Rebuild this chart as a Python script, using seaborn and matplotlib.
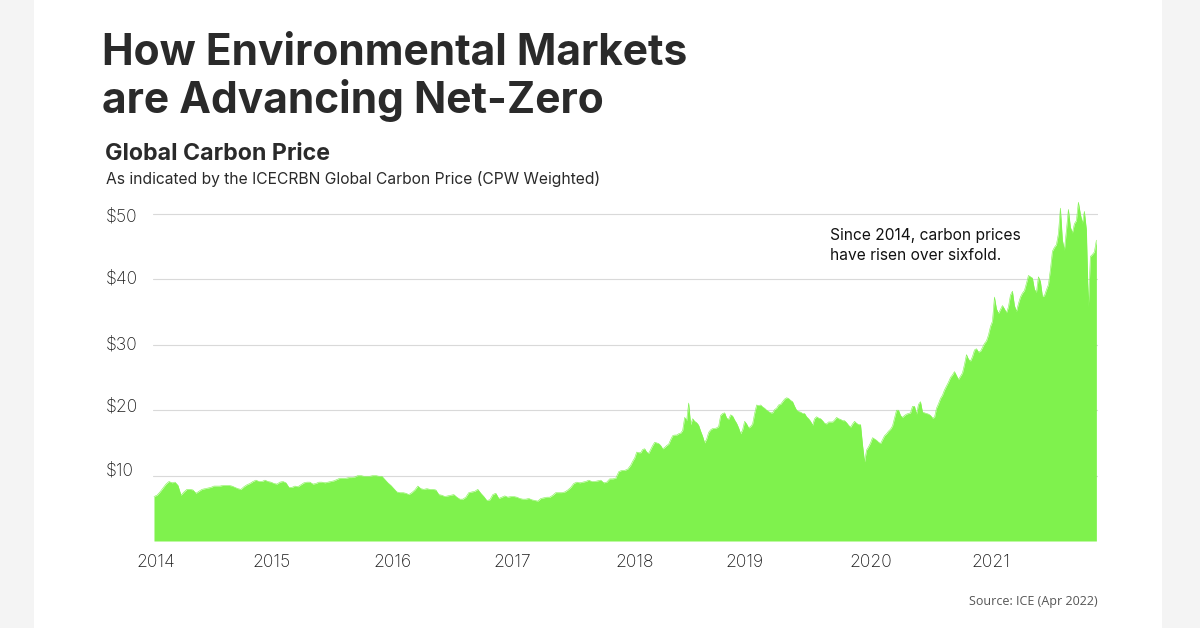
import matplotlib
matplotlib.use("Agg")
import matplotlib.pyplot as plt
from matplotlib.patches import Rectangle
from matplotlib.transforms import ScaledTranslation
import numpy as np
import pandas as pd
import seaborn as sns

# prices, 2014 to end of 2017 (about 9 days apart)
price_early = [
    6.8, 7.0, 7.5, 8.1, 8.7, 9.1, 8.9, 9.0, 8.5, 7.0, 7.5, 7.9, 7.9, 7.8, 7.3, 7.6, 7.9, 8.0, 8.1, 8.2,
    8.4, 8.4, 8.4, 8.5, 8.5, 8.5, 8.4, 8.2, 8.0, 7.9, 8.3, 8.6, 8.8, 9.1, 9.3, 9.1, 9.1, 9.3, 9.1, 9.0,
    8.8, 8.7, 9.0, 9.1, 8.9, 8.2, 8.2, 8.4, 8.3, 8.6, 8.9, 9.0, 9.0, 8.7, 8.8, 9.0, 9.0, 8.9, 9.0, 9.1,
    9.2, 9.4, 9.6, 9.6, 9.6, 9.7, 9.7, 9.8, 10.0, 10.0, 9.9, 9.9, 9.9, 10.0, 10.0, 9.9, 9.9, 9.4, 8.9, 8.5,
    8.0, 7.5, 7.4, 7.4, 7.3, 7.1, 7.4, 7.8, 8.4, 8.0, 7.9, 8.0, 7.9, 7.9, 7.8, 7.1, 7.0, 6.8, 6.9, 7.0,
    7.1, 6.7, 6.4, 6.4, 6.7, 7.4, 7.5, 7.6, 7.9, 7.3, 6.8, 6.2, 6.3, 7.1, 7.3, 6.5, 6.7, 6.9, 6.7, 6.8,
    6.8, 6.7, 6.5, 6.4, 6.4, 6.5, 6.3, 6.2, 6.1, 6.5, 6.6, 6.7, 6.7, 7.0, 7.4, 7.4, 7.4, 7.5, 7.8, 8.2,
    8.8, 9.0, 8.9, 9.0, 9.1, 9.3, 9.1, 9.1, 9.2, 9.3, 8.9, 9.0, 9.5, 9.5, 9.6, 10.6, 10.8, 10.8, 11.0, 11.6,
]

# 2018 onwards, closer together (about 6 days apart)
price_late = [
    12.2, 12.7, 13.6, 13.5, 13.5, 14.0, 14.1, 13.6, 13.4, 14.0, 14.6, 15.1, 15.0, 14.9, 14.6, 14.1, 14.3, 14.6, 14.8, 15.5,
    16.1, 16.2, 16.2, 16.4, 16.5, 16.9, 18.9, 18.4, 21.1, 17.8, 18.7, 18.3, 18.1, 17.7, 16.8, 16.0, 15.0, 15.6, 16.6, 17.0,
    17.2, 17.2, 17.3, 17.5, 19.2, 19.5, 19.6, 18.8, 18.6, 19.3, 19.1, 18.5, 18.0, 17.3, 16.4, 17.0, 18.3, 17.9, 17.3, 17.5,
    17.9, 19.5, 20.8, 20.7, 20.8, 20.5, 20.3, 20.0, 19.8, 19.6, 19.6, 20.1, 20.3, 20.8, 20.9, 21.3, 21.7, 21.9, 21.8, 21.5,
    21.3, 20.6, 20.0, 19.8, 19.7, 19.5, 19.5, 19.0, 18.7, 18.3, 17.7, 18.7, 19.0, 18.8, 18.7, 18.4, 18.0, 17.9, 18.2, 18.2,
    18.2, 18.5, 18.9, 18.7, 18.6, 18.4, 18.4, 18.1, 17.7, 17.4, 17.9, 18.3, 18.0, 17.8, 17.8, 14.7, 12.1, 13.9, 14.4, 15.0,
    15.8, 15.6, 15.4, 15.1, 14.9, 15.5, 16.1, 16.4, 16.8, 17.1, 17.6, 18.8, 20.0, 20.0, 19.2, 18.9, 19.2, 19.4, 19.5, 19.6,
    20.6, 20.6, 19.4, 20.9, 21.3, 19.7, 19.6, 19.5, 19.4, 19.2, 18.8, 18.9, 20.3, 21.0, 21.8, 22.3, 23.1, 23.7, 24.3, 25.0,
    25.4, 25.9, 25.3, 24.7, 25.2, 25.7, 27.0, 28.5, 27.8, 27.5, 28.2, 29.2, 29.4, 28.9, 29.0, 29.6, 30.2, 30.6, 31.5, 32.8,
    33.6, 37.3, 35.5, 34.8, 35.4, 36.0, 35.5, 34.9, 35.8, 37.6, 38.2, 36.0, 35.1, 36.3, 37.3, 37.9, 38.3, 39.4, 40.6, 40.4,
    40.2, 38.5, 38.0, 40.4, 39.7, 37.4, 37.5, 38.4, 39.2, 41.5, 44.3, 44.9, 45.3, 47.0, 50.9, 46.0, 44.5, 47.5, 50.7, 48.0,
    47.1, 48.5, 49.0, 51.8, 50.0, 48.6, 50.4, 47.6, 35.9, 43.5, 43.8, 44.2, 46.0,
]

tick_dates = ["2014-01-07", "2014-12-28", "2016-01-01", "2017-01-01", "2018-01-13", "2018-12-15", "2020-01-05", "2021-01-06"]
tick_labels = ["2014", "2015", "2016", "2017", "2018", "2019", "2020", "2021"]
y_ticks = [10, 20, 30, 40, 50]
y_labels = ["$10", "$20", "$30", "$40", "$50"]

GREEN = "#7ff24d"
DARK = "#2a2a2a"
W, H = 1200, 628

dates = pd.date_range("2014-01-01", "2017-12-31", periods=len(price_early)).append(
    pd.date_range("2018-01-06", "2021-11-26", periods=len(price_late)))
df = pd.DataFrame({"date": dates, "price": price_early + price_late})

sns.set_theme(style="white")
plt.rcParams["font.family"] = ["Inter", "DejaVu Sans"]

fig = plt.figure(figsize=(W / 100, H / 100), dpi=100, facecolor="#f4f4f4")
fig.add_artist(Rectangle((34 / W, 0), 1128 / W, 1, transform=fig.transFigure, color="white", lw=0, zorder=-1))

ax = fig.add_axes([153 / W, 1 - 541 / H, 945 / W, 341 / H])
ax.patch.set_alpha(0)
sns.lineplot(data=df, x="date", y="price", color=GREEN, linewidth=0.4, ax=ax, zorder=3)
ax.fill_between(df["date"], df["price"], 0, color=GREEN, lw=0, zorder=3)

ax.set_xlim(pd.Timestamp("2013-12-29"), pd.Timestamp("2021-12-01"))
ax.set_ylim(0, 341 / 6.54)
ax.set_xlabel("")
ax.set_ylabel("")
sns.despine(ax=ax, left=True, bottom=True, top=True, right=True)

ax.set_yticks(y_ticks, y_labels)
ax.set_xticks(pd.to_datetime(tick_dates), tick_labels)
ax.grid(axis="y", color="#d9d9d9", lw=0.8)
ax.grid(axis="x", visible=False)
ax.set_axisbelow(True)
ax.tick_params(axis="y", length=0, pad=34, labelsize=12.6, labelcolor="#1c1c1c")
ax.tick_params(axis="x", length=0, pad=9.7, labelsize=12.6, labelcolor="#1c1c1c")

# the y labels sit a little off their gridlines in the original
label_shift_px = [5, 3, 0, 0, -3]
for lab, shift in zip(ax.get_yticklabels(), label_shift_px):
    lab.set_ha("left")
    lab.set_va("center")
    lab.set_fontweight("light")
    lab.set_transform(lab.get_transform() + ScaledTranslation(0, shift / 100, fig.dpi_scale_trans))
for lab in ax.get_xticklabels():
    lab.set_fontweight("light")


def px_text(x, y, s, **kw):
    fig.text(x / W, 1 - y / H, s, va="baseline", **kw)


px_text(102, 65, "How Environmental Markets", fontsize=30.6, fontweight="bold", color=DARK)
px_text(102, 113, "are Advancing Net-Zero", fontsize=30.6, fontweight="bold", color=DARK)
px_text(105, 160, "Global Carbon Price", fontsize=16.7, fontweight="bold", color=DARK)
px_text(106, 184, "As indicated by the ICECRBN Global Carbon Price (CPW Weighted)", fontsize=11.25, color=DARK)
px_text(830, 240, "Since 2014, carbon prices", fontsize=11.2, color="#111111")
px_text(830, 260, "have risen over sixfold.", fontsize=11.2, color="#111111")
px_text(1098, 605, "Source: ICE (Apr 2022)", fontsize=9.0, color="#555555", ha="right", family=["Open Sans", "DejaVu Sans"])

fig.savefig("out.png", dpi=100, facecolor=fig.get_facecolor())
